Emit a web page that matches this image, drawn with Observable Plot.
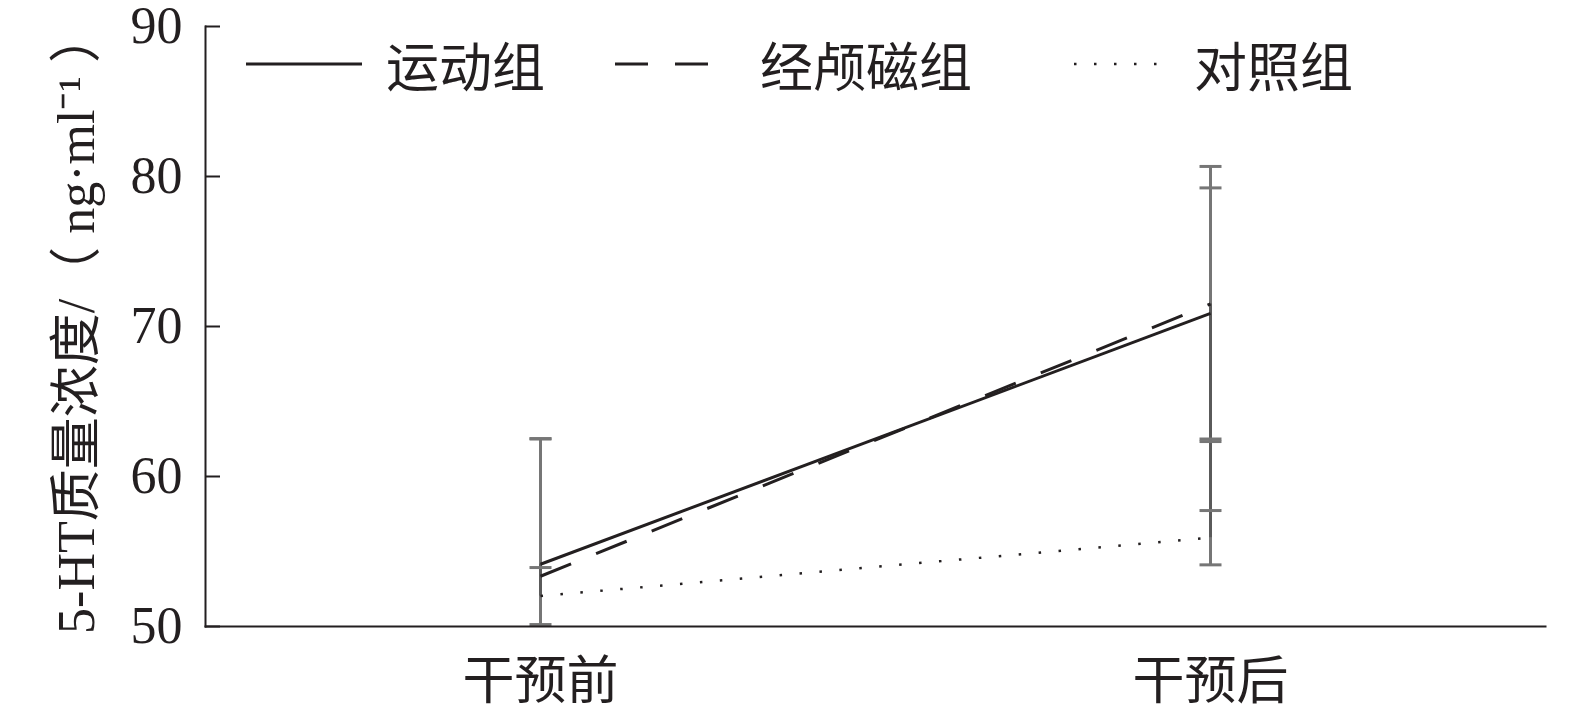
<!DOCTYPE html>
<html><head><meta charset="utf-8">
<script src="https://cdn.jsdelivr.net/npm/d3@7"></script>
<script src="https://cdn.jsdelivr.net/npm/@observablehq/plot@0.6"></script>
<style>
body{margin:0;background:#fff;}
#wrap{position:relative;width:1575px;height:714px;}
.leg{position:absolute;top:30px;height:68px;display:flex;align-items:center;font-family:"Noto Sans CJK SC";font-size:53px;color:#231f20;white-space:nowrap;}
.leg svg{display:block;}
</style></head><body><div id="wrap"></div>
<script>
const phases = ["干预前", "干预后"];
const groups = ["运动组", "经颅磁组", "对照组"];
const preMean = [54.15, 53.35, 52.03];
const postMean = [70.87, 71.5, 55.92];
const preSD = [8.35, 9.18, 1.9];
const postSD = [8.37, 9.17, 1.81];
const yTicks = [50, 60, 70, 80, 90];
const yLabel = "5-HT质量浓度/（ ng·ml⁻¹ ）";
const dashes = [null, "33,27", "2.5,17.5"];

const rows = [];
groups.forEach((g, i) => {
  rows.push({group: g, phase: phases[0], mean: preMean[i], sd: preSD[i]});
  rows.push({group: g, phase: phases[1], mean: postMean[i], sd: postSD[i]});
});
// per-phase stems: full span of error bars, and span of means (overlap)
const stems = phases.map(p => {
  const rs = rows.filter(r => r.phase === p);
  return {
    phase: p,
    lo: d3.min(rs, r => r.mean - r.sd),
    hi: d3.max(rs, r => r.mean + r.sd),
    mlo: d3.min(rs, r => r.mean),
    mhi: d3.max(rs, r => r.mean)
  };
});

const capSymbol = {
  draw(ctx, size) {
    const h = Math.sqrt(size / Math.PI);
    ctx.moveTo(-h, 0);
    ctx.lineTo(h, 0);
  }
};

const ink = "#231f20";
const barColor = "#767676";
const barDark = "#5a5a5a";
const serif = "'Liberation Serif', 'Noto Sans CJK SC', serif";

const marks = [
  Plot.ruleX(stems, {x: "phase", y1: "lo", y2: "hi", stroke: barColor, strokeWidth: 3, clip: true}),
  Plot.ruleX(stems, {x: "phase", y1: "mlo", y2: "mhi", stroke: barDark, strokeWidth: 3, clip: true}),
  Plot.dot(rows, {x: "phase", y: d => d.mean + d.sd, symbol: capSymbol, r: 11, stroke: barColor, strokeWidth: 3, clip: true}),
  Plot.dot(rows, {x: "phase", y: d => d.mean - d.sd, symbol: capSymbol, r: 11, stroke: barColor, strokeWidth: 3, clip: true}),
  ...groups.map((g, i) => Plot.line(rows.filter(r => r.group === g), {
    x: "phase", y: "mean", stroke: ink, strokeWidth: i === 2 ? 2.5 : 3,
    strokeDasharray: dashes[i] || undefined, strokeLinecap: "butt"
  })),
  Plot.frame({anchor: "left", stroke: ink, strokeWidth: 2}),
  Plot.frame({anchor: "bottom", stroke: ink, strokeWidth: 2}),
  Plot.axisY({ticks: yTicks, tickSize: -15, tickPadding: 38, stroke: ink, strokeWidth: 2, fontSize: 52, label: null, fill: ink, fontFamily: "'Liberation Serif'"}),
  Plot.axisX({tickSize: 0, tickPadding: 36, fontSize: 52, label: null, fill: ink, fontFamily: "'Noto Sans CJK SC'"}),
  Plot.text([yLabel], {frameAnchor: "left", textAnchor: "middle", rotate: -90, dx: -128, dy: -4, fontSize: 52, fill: ink, fontFamily: serif, text: d => d})
];

const chart = Plot.plot({
  width: 1575,
  height: 714,
  marginLeft: 205,
  marginRight: 30,
  marginTop: 26,
  marginBottom: 88,
  style: {fontFamily: serif, background: "#fff", color: ink},
  x: {domain: phases, type: "point", padding: 0.5},
  y: {domain: [50, 90]},
  marks
});
const wrap = document.getElementById("wrap");
wrap.appendChild(chart);

// legend overlay (inside plot area, top)
const legendPos = [
  {sw: 246, swW: 116, tx: 386},
  {sw: 615, swW: 93, tx: 760},
  {sw: 1074, swW: 86, tx: 1194}
];
groups.forEach((g, i) => {
  const p = legendPos[i];
  const sw = document.createElement("div");
  sw.className = "leg";
  sw.style.left = p.sw + "px";
  const dash = i === 1 ? "33,27" : i === 2 ? "2.5,17.5" : "";
  sw.innerHTML = `<svg width="${p.swW}" height="10"><line x1="0" x2="${p.swW}" y1="5" y2="5" stroke="${ink}" stroke-width="${i===2?2.5:3}" ${dash ? `stroke-dasharray="${dash}"` : ""}/></svg>`;
  wrap.appendChild(sw);
  const tx = document.createElement("div");
  tx.className = "leg";
  tx.style.left = p.tx + "px";
  tx.textContent = g;
  wrap.appendChild(tx);
});
</script>
</body></html>
